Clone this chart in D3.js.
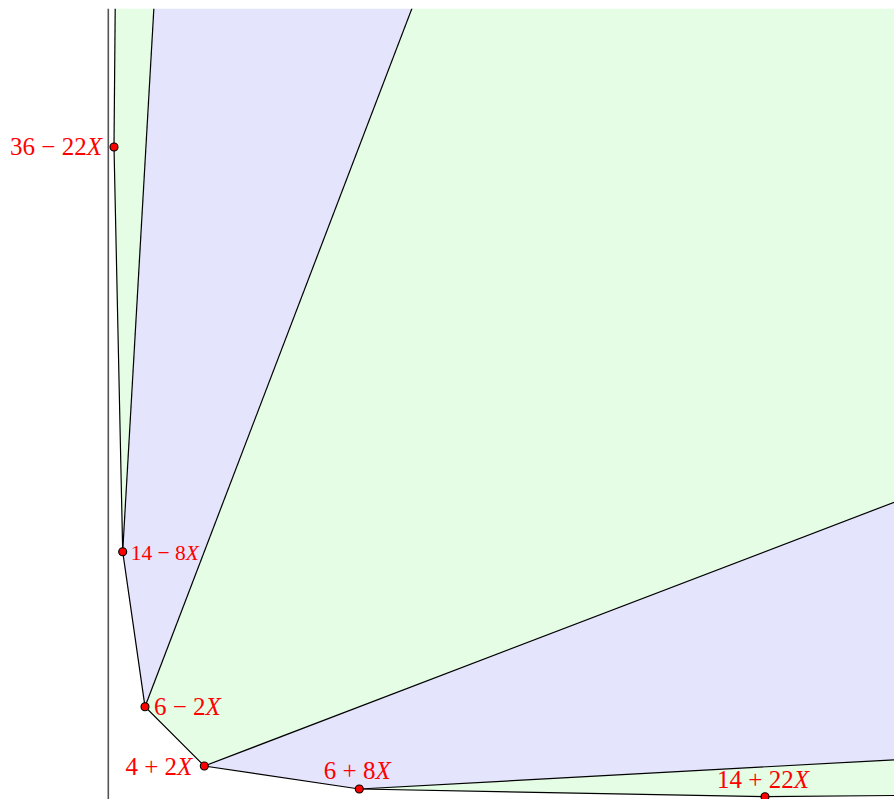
<!DOCTYPE html>
<html>
<head>
<meta charset="utf-8">
<script src="https://cdn.jsdelivr.net/npm/d3@7"></script>
<style>
  body { margin: 0; background: #fff; }
  svg { display: block; }
</style>
</head>
<body>
<svg id="chart"></svg>
<script>
// points of the chain (origin at the axis corner)
const pointX = [5.7, 14.4, 36.7, 96, 251, 656.7];
const pointY = [655.7, 251, 96, 36.7, 13.7, 6];
const pointLabels = ['36 − 22X', '14 − 8X', '6 − 2X', '4 + 2X', '6 + 8X', '14 + 22X'];
// region colours between consecutive rays
const regionColors = ['green', 'blue', 'green', 'blue', 'green'];
// visible window in data units
const xMax = 786;
const yMax = 794;

const WIDTH = 894;
const HEIGHT = 799;

const fills = { green: '#e4fde4', blue: '#e4e4fd' };

// where each label sits relative to its point
const labelStyle = [
    { anchor: 'end', dx: -12, dy: 8, size: 25 },
    { anchor: 'start', dx: 8, dy: 8.5, size: 21.5 },
    { anchor: 'start', dx: 9, dy: 8.5, size: 25 },
    { anchor: 'end', dx: -12, dy: 9, size: 25 },
    { anchor: 'middle', dx: -2, dy: -10, size: 25 },
    { anchor: 'middle', dx: -2, dy: -8.5, size: 25 }
];

let x = d3.scaleLinear().domain([0, xMax]).range([108.3, 894.3]);
let y = d3.scaleLinear().domain([0, yMax]).range([802.7, 8.7]);

let svg = d3.select('#chart').attr('width', WIDTH).attr('height', HEIGHT);

svg.append('clipPath').attr('id', 'plot')
    .append('rect')
    .attr('x', x(0))
    .attr('y', y(yMax))
    .attr('width', x(xMax) - x(0) + 2)
    .attr('height', y(0) - y(yMax));

let points = pointX.map((px, i) => ({ x: px, y: pointY[i], label: pointLabels[i] }));

// rays run from the origin through each point and on outwards
function rayEnd(p) {
    let len = Math.sqrt(p.x * p.x + p.y * p.y);
    let k = 3000 / len;
    return { x: p.x * k, y: p.y * k };
}

let g = svg.append('g').attr('clip-path', 'url(#plot)');

regionColors.forEach((color, i) => {
    let a = points[i];
    let b = points[i + 1];
    let corners = [a, rayEnd(a), rayEnd(b), b];
    g.append('path')
        .attr('d', d3.line().x(d => x(d.x)).y(d => y(d.y))(corners) + 'Z')
        .attr('fill', fills[color])
        .attr('stroke', 'none');
});

points.forEach(p => {
    let e = rayEnd(p);
    g.append('line')
        .attr('x1', x(p.x)).attr('y1', y(p.y))
        .attr('x2', x(e.x)).attr('y2', y(e.y))
        .attr('stroke', '#000')
        .attr('stroke-width', 1.2);
});

g.append('path')
    .attr('d', d3.line().x(d => x(d.x)).y(d => y(d.y))(points))
    .attr('fill', 'none')
    .attr('stroke', '#000')
    .attr('stroke-width', 1.2);

// vertical axis
svg.append('line')
    .attr('x1', x(0)).attr('y1', y(yMax))
    .attr('x2', x(0)).attr('y2', HEIGHT)
    .attr('stroke', '#555')
    .attr('stroke-width', 1.6);

svg.selectAll('circle.pt')
    .data(points)
    .join('circle')
    .attr('class', 'pt')
    .attr('cx', d => x(d.x))
    .attr('cy', d => y(d.y))
    .attr('r', 4)
    .attr('fill', '#f00')
    .attr('stroke', '#000')
    .attr('stroke-width', 1.1);

points.forEach((p, i) => {
    let st = labelStyle[i];
    let m = p.label.match(/^(\d+) ([−+]) (\d+)X$/);
    let t = svg.append('text')
        .attr('x', x(p.x) + st.dx)
        .attr('y', y(p.y) + st.dy)
        .attr('text-anchor', st.anchor)
        .attr('font-family', '"Liberation Serif", "DejaVu Serif", serif')
        .attr('font-size', st.size)
        .attr('fill', '#f00');
    t.append('tspan').text(m[1]);
    t.append('tspan').attr('dx', '0.25em').text(m[2]);
    t.append('tspan').attr('dx', '0.25em').text(m[3]);
    t.append('tspan').attr('font-style', 'italic').text('X');
});
</script>
</body>
</html>
